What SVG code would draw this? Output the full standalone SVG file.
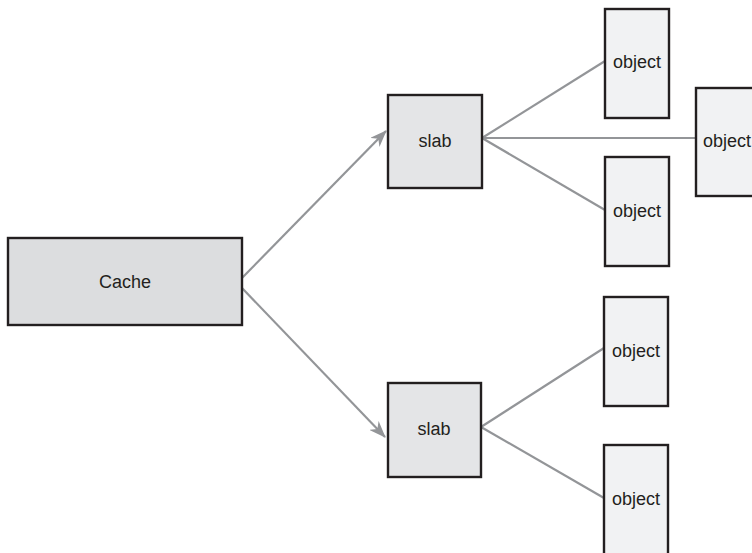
<svg xmlns="http://www.w3.org/2000/svg" width="752" height="553" viewBox="0 0 752 553">
<style>
.box{stroke:#231f20;stroke-width:2.4}
.cache{fill:#dcdddf}
.slab{fill:#e4e5e7}
.obj{fill:#f1f2f3}
text{font-family:"Liberation Sans",Arial,sans-serif;font-size:18px;fill:#231f20;text-anchor:middle}
.conn{stroke:#939598;stroke-width:2.2;fill:none}
</style>
<defs>
<marker id="arr" viewBox="0 0 17 13" refX="16" refY="6.5" markerWidth="17" markerHeight="13" markerUnits="userSpaceOnUse" orient="auto">
<path d="M0,0 L17,6.5 L0,13 L5,6.5 Z" fill="#939598"/>
</marker>
</defs>
<rect width="752" height="553" fill="#ffffff"/>
<g id="connectors">
<line class="conn" x1="242" y1="278" x2="386" y2="131" marker-end="url(#arr)"/>
<line class="conn" x1="242" y1="288" x2="385" y2="437" marker-end="url(#arr)"/>
<line class="conn" x1="482" y1="138" x2="605" y2="61"/>
<line class="conn" x1="482" y1="138" x2="696" y2="138"/>
<line class="conn" x1="482" y1="138" x2="605" y2="210"/>
<line class="conn" x1="481" y1="427" x2="604" y2="348"/>
<line class="conn" x1="481" y1="427" x2="604" y2="498"/>
</g>
<g id="cache">
<rect class="box cache" x="8" y="238" width="234" height="87"/>
<text x="125" y="288">Cache</text>
</g>
<g id="slab1">
<rect class="box slab" x="388" y="95" width="94" height="93"/>
<text x="435" y="147">slab</text>
</g>
<g id="slab2">
<rect class="box slab" x="388" y="383" width="93" height="94"/>
<text x="434" y="435">slab</text>
</g>
<g id="object1">
<rect class="box obj" x="605" y="9" width="64" height="109"/>
<text x="637" y="68">object</text>
</g>
<g id="object2">
<rect class="box obj" x="696" y="88" width="64" height="108"/>
<text x="727" y="147">object</text>
</g>
<g id="object3">
<rect class="box obj" x="605" y="157" width="64" height="109"/>
<text x="637" y="217">object</text>
</g>
<g id="object4">
<rect class="box obj" x="604" y="297" width="64" height="109"/>
<text x="636" y="357">object</text>
</g>
<g id="object5">
<rect class="box obj" x="604" y="445" width="64" height="115"/>
<text x="636" y="505">object</text>
</g>
</svg>
